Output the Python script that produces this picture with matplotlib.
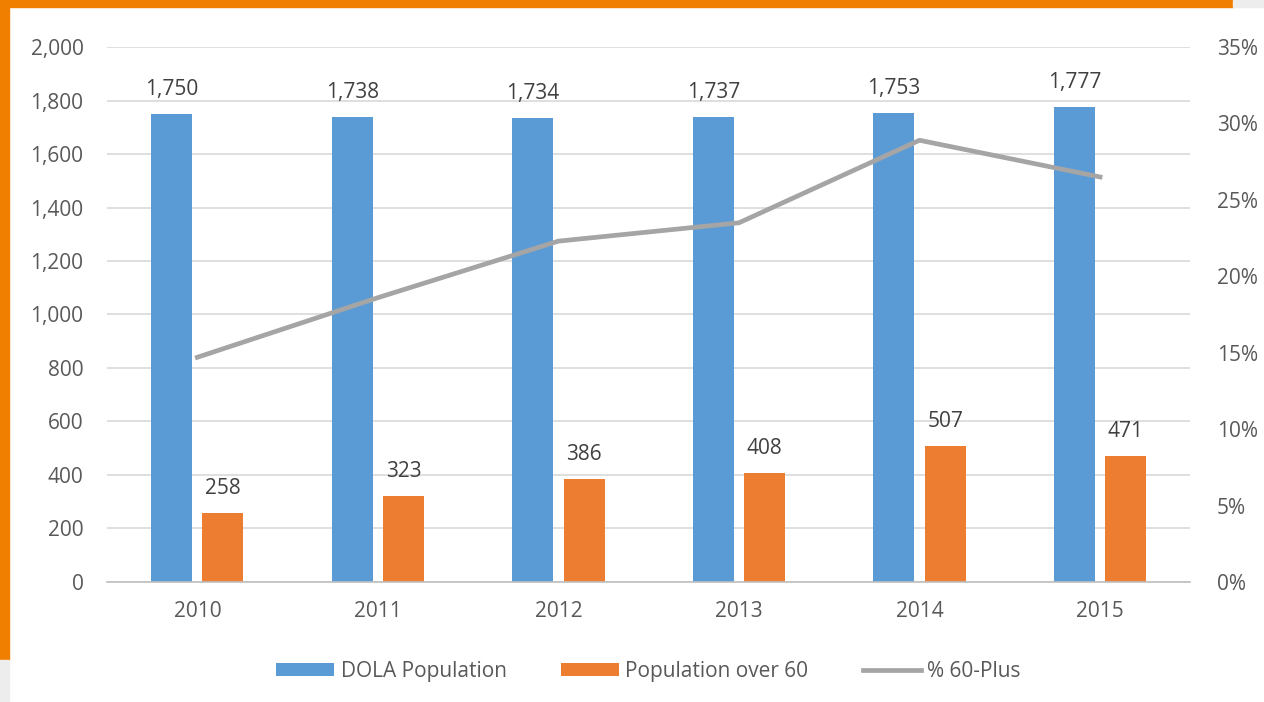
import matplotlib
matplotlib.use("Agg")
import matplotlib.pyplot as plt
from matplotlib.patches import Rectangle
from matplotlib.ticker import FuncFormatter, MultipleLocator
import numpy as np

years = ["2010", "2011", "2012", "2013", "2014", "2015"]
dola_pop = [1750, 1738, 1734, 1737, 1753, 1777]
pop_over_60 = [258, 323, 386, 408, 507, 471]
pct_60_plus = [14.7, 18.6, 22.3, 23.5, 28.9, 26.5]

BLUE = "#5B9BD5"
ORANGE = "#ED7D31"
LINE = "#A5A5A5"
TXT = "#595959"
LBL = "#404040"
GRID = "#D9D9D9"

plt.rcParams["font.family"] = ["Open Sans", "DejaVu Sans"]

fig = plt.figure(figsize=(12.64, 7.02), dpi=100)
ax = fig.add_axes([0.0847, 0.171, 0.857, 0.762])

x = np.arange(len(years))
w = 0.227
b1 = ax.bar(x - 0.142, dola_pop, width=w, color=BLUE, label="DOLA Population", zorder=2)
b2 = ax.bar(x + 0.142, pop_over_60, width=w, color=ORANGE, label="Population over 60", zorder=2)
ax.bar_label(b1, labels=[f"{v:,}" for v in dola_pop], padding=10, fontsize=15, color=LBL)
ax.bar_label(b2, labels=[f"{v:,}" for v in pop_over_60], padding=10, fontsize=15, color=LBL)

ax.set_xlim(-0.5, len(years) - 0.5)
ax.set_ylim(0, 2000)
ax.yaxis.set_major_locator(MultipleLocator(200))
ax.yaxis.set_major_formatter(FuncFormatter(lambda v, p: f"{int(v):,}"))
ax.set_xticks(x)
ax.set_xticklabels(years)
ax.grid(axis="y", color=GRID, linewidth=1.2, zorder=0)
ax.set_axisbelow(True)
for s in ("top", "right", "left"):
    ax.spines[s].set_visible(False)
ax.spines["bottom"].set_color("#BFBFBF")
ax.spines["bottom"].set_linewidth(1.2)
ax.tick_params(axis="y", length=0, pad=17, labelsize=15, labelcolor=TXT)
ax.tick_params(axis="x", length=0, pad=14, labelsize=15, labelcolor=TXT)

ax2 = ax.twinx()
ln, = ax2.plot(x, pct_60_plus, color=LINE, linewidth=3.4, label="% 60-Plus", zorder=3)
ax2.set_ylim(0, 35)
ax2.yaxis.set_major_locator(MultipleLocator(5))
ax2.yaxis.set_major_formatter(FuncFormatter(lambda v, p: f"{int(v)}%"))
for s in ("top", "right", "left", "bottom"):
    ax2.spines[s].set_visible(False)
ax2.tick_params(axis="y", length=0, pad=19, labelsize=15, labelcolor=TXT)

fig.legend(handles=[b1, b2, ln], loc="center", bbox_to_anchor=(0.513, 0.044),
           ncol=3, frameon=False, fontsize=15, labelcolor=TXT,
           handlelength=2.8, handleheight=0.6, handletextpad=0.3, columnspacing=2.6)

# orange frame from the slide this chart was cut from
fig.patches.append(Rectangle((0, 0.99), 0.9755, 0.01, transform=fig.transFigure,
                             color="#F07F00", zorder=10))
fig.patches.append(Rectangle((0.9755, 0.99), 0.0245, 0.01, transform=fig.transFigure,
                             color="#EDEDED", zorder=10))
fig.patches.append(Rectangle((0, 0.06), 0.0075, 0.94, transform=fig.transFigure,
                             color="#F07F00", zorder=10))
fig.patches.append(Rectangle((0, 0), 0.0075, 0.06, transform=fig.transFigure,
                             color="#EDEDED", zorder=10))

fig.savefig("out.png", dpi=100, facecolor="white")
